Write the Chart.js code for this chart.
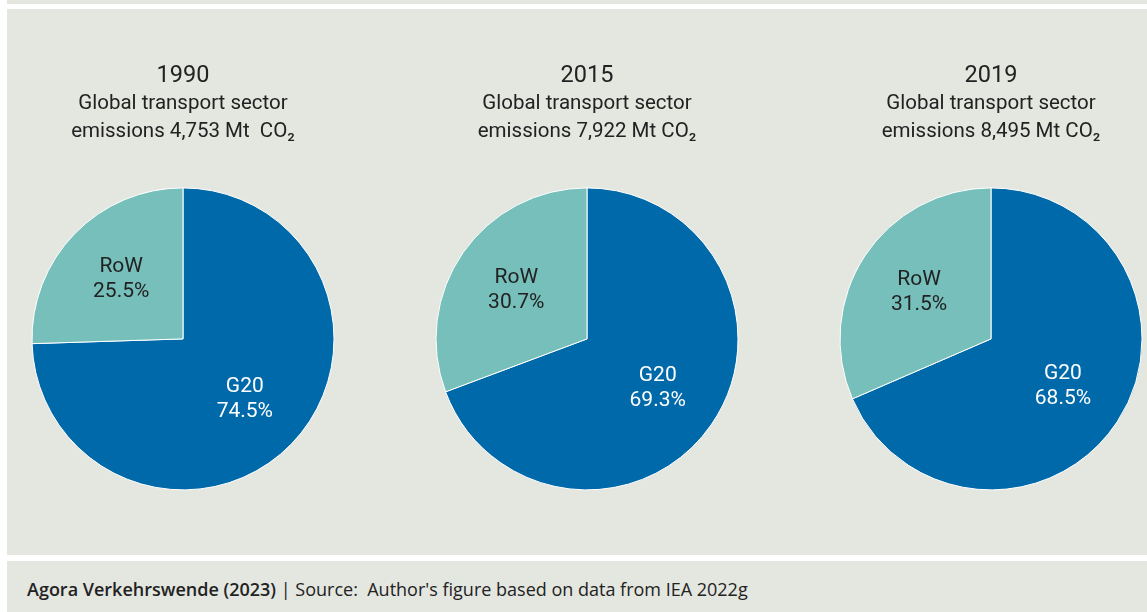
<!DOCTYPE html>
<html>
<head>
<meta charset="utf-8">
<script src="https://cdn.jsdelivr.net/npm/chart.js@4"></script>
<style>
  html, body { margin: 0; padding: 0; background: #fff; }
  body { width: 1147px; height: 612px; position: relative; overflow: hidden; font-family: Roboto, "Liberation Sans", sans-serif; color: #222; }
  .strip { position: absolute; left: 7px; top: 0; width: 1140px; height: 4px; background: #e4e6e0; }
  .panel { position: absolute; left: 7px; top: 9px; width: 1140px; height: 546px; background: #e4e6e0; }
  .footer { position: absolute; left: 7px; top: 561px; width: 1140px; height: 51px; background: #e4e6e0; }
  .footer p { margin: 0; position: absolute; left: 20px; top: 15px; font-family: "Open Sans", Roboto, sans-serif; font-size: 18px; line-height: 26px; }
  .footer b { font-weight: 600; }
  .pie { position: absolute; top: 0; width: 310px; height: 555px; }
</style>
</head>
<body>
<div class="strip"></div>
<div class="panel"></div>
<div class="footer"><p><b>Agora Verkehrswende (2023)</b> | Source:&nbsp; Author's figure based on data from IEA 2022g</p></div>
<div class="pie" style="left:28px"><canvas id="pie1990"></canvas></div>
<div class="pie" style="left:432px"><canvas id="pie2015"></canvas></div>
<div class="pie" style="left:836px"><canvas id="pie2019"></canvas></div>

<script>
// regions and shares (%)
const regions = ['G20', 'RoW'];
const years = ['1990', '2015', '2019'];
const totals = ['4,753 Mt  CO₂', '7,922 Mt CO₂', '8,495 Mt CO₂'];
const g20Share = [74.5, 69.3, 68.5];
const rowShare = [25.5, 30.7, 31.5];

const colors = ['#0069aa', '#76bfba'];
const labelColors = ['#ffffff', '#222222'];
const fontFamily = 'Roboto, "Liberation Sans", sans-serif';

// Beschriftung in den Segmenten
const sliceLabels = {
  id: 'sliceLabels',
  afterDatasetsDraw(chart) {
    const ctx = chart.ctx;
    const meta = chart.getDatasetMeta(0);
    const ds = chart.data.datasets[0];
    ctx.save();
    ctx.font = '21px ' + fontFamily;
    ctx.textAlign = 'center';
    ctx.textBaseline = 'middle';
    meta.data.forEach((arc, i) => {
      const mid = (arc.startAngle + arc.endAngle) / 2;
      const r = arc.outerRadius * 0.57;
      const x = arc.x + Math.cos(mid) * r;
      const y = arc.y + Math.sin(mid) * r;
      ctx.fillStyle = labelColors[i];
      ctx.fillText(chart.data.labels[i], x, y - 12);
      ctx.fillText(ds.data[i].toFixed(1) + '%', x, y + 13);
    });
    ctx.restore();
  }
};

years.forEach((year, i) => {
  const el = document.getElementById('pie' + year);
  new Chart(el, {
    type: 'pie',
    data: {
      labels: regions,
      datasets: [{
        data: [g20Share[i], rowShare[i]],
        backgroundColor: colors,
        borderColor: '#ffffff',
        borderWidth: 1
      }]
    },
    options: {
      responsive: true,
      maintainAspectRatio: false,
      animation: false,
      radius: 151,
      layout: { padding: { top: 0, bottom: 23, left: 0, right: 0 } },
      plugins: {
        legend: { display: false },
        tooltip: { enabled: false },
        title: {
          display: true,
          text: year,
          color: '#222',
          font: { family: fontFamily, size: 23.5, weight: 'normal', lineHeight: 1.2 },
          padding: { top: 61.9, bottom: 0 }
        },
        subtitle: {
          display: true,
          text: ['Global transport sector', 'emissions ' + totals[i]],
          color: '#222',
          font: { family: fontFamily, size: 20.5, lineHeight: 28 / 20.5 },
          padding: { top: -0.3, bottom: 0 }
        }
      }
    },
    plugins: [sliceLabels]
  });
});
</script>
</body>
</html>
